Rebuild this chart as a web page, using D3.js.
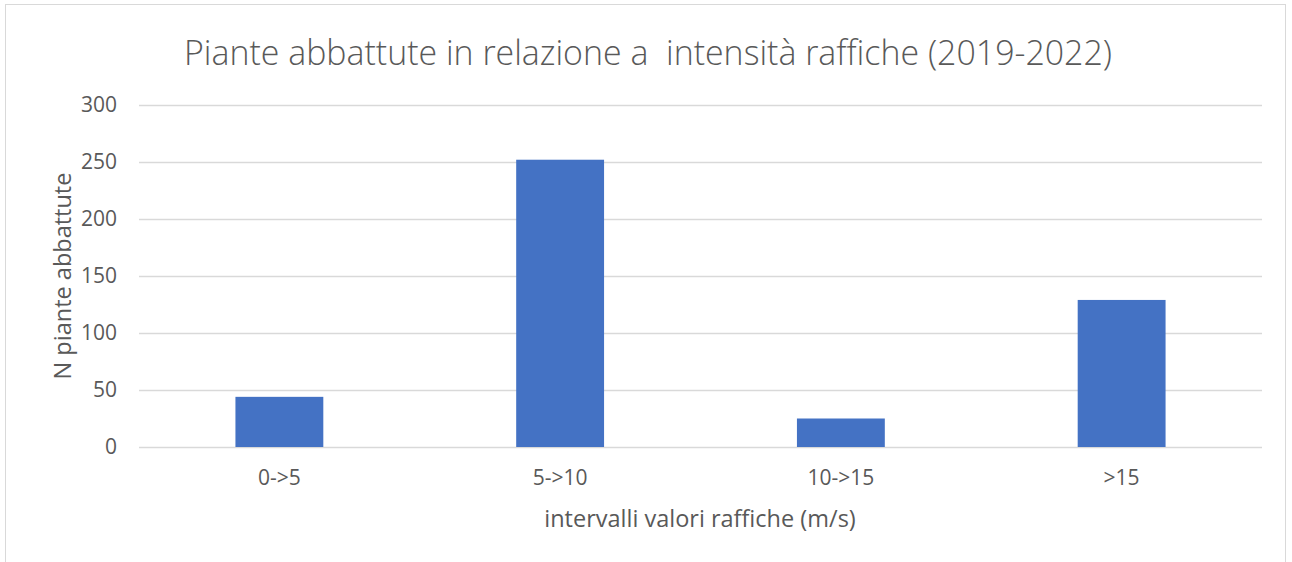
<!DOCTYPE html>
<html>
<head>
<meta charset="utf-8">
<script src="https://cdn.jsdelivr.net/npm/d3@7"></script>
<style>
  body { margin: 0; background: #fff; }
  text { font-family: "Open Sans", "Noto Sans", sans-serif; fill: #595959; }
</style>
</head>
<body>
<script>
var categories = ['0->5', '5->10', '10->15', '>15'];
var values = [44, 252, 25, 129];
var yTicks = [0, 50, 100, 150, 200, 250, 300];

var width = 1292, height = 562;
var margin = { top: 105, right: 30, bottom: 115, left: 139 };

var svg = d3.select('body').append('svg')
  .attr('width', width)
  .attr('height', height);

// chart frame
svg.append('rect')
  .attr('x', 5.5).attr('y', 4.5)
  .attr('width', 1280).attr('height', 570)
  .attr('fill', '#fff')
  .attr('stroke', '#d9d9d9');

var x = d3.scaleBand()
  .domain(categories)
  .range([margin.left, width - margin.right])
  .paddingInner(0.687)
  .paddingOuter(0.3435);

var y = d3.scaleLinear()
  .domain([0, 300])
  .range([height - margin.bottom, margin.top]);

// gridlines
svg.append('g')
  .selectAll('line')
  .data(yTicks)
  .enter().append('line')
  .attr('x1', margin.left)
  .attr('x2', width - margin.right)
  .attr('y1', function(d) { return Math.round(y(d)) + 0.5; })
  .attr('y2', function(d) { return Math.round(y(d)) + 0.5; })
  .attr('stroke', '#d9d9d9')
  .attr('stroke-width', 1.5);

// y tick labels
var yAxis = svg.append('g')
  .attr('transform', 'translate(' + (margin.left - 22) + ',0)')
  .call(d3.axisLeft(y).tickValues(yTicks).tickSize(0).tickPadding(0));
yAxis.select('.domain').remove();
yAxis.selectAll('text')
  .style('font-size', '21px')
  .attr('fill', '#595959');

// bars
svg.append('g')
  .selectAll('rect')
  .data(values)
  .enter().append('rect')
  .attr('x', function(d, i) { return x(categories[i]); })
  .attr('y', function(d) { return y(d); })
  .attr('width', x.bandwidth())
  .attr('height', function(d) { return y(0) - y(d); })
  .attr('fill', '#4472c4');

// x tick labels
var xAxis = svg.append('g')
  .attr('transform', 'translate(0,' + (y(0) + 23) + ')')
  .call(d3.axisBottom(x).tickSize(0).tickPadding(0));
xAxis.select('.domain').remove();
xAxis.selectAll('text')
  .style('font-size', '21px')
  .attr('fill', '#595959');

// title
svg.append('text')
  .attr('x', 648)
  .attr('y', 65)
  .attr('text-anchor', 'middle')
  .attr('textLength', 928)
  .attr('lengthAdjust', 'spacingAndGlyphs')
  .style('font-size', '35px')
  .style('font-weight', 300)
  .style('white-space', 'pre')
  .text('Piante abbattute in relazione a  intensità raffiche (2019-2022)');

// x axis title
svg.append('text')
  .attr('x', 700)
  .attr('y', 527)
  .attr('text-anchor', 'middle')
  .style('font-size', '23.5px')
  .text('intervalli valori raffiche (m/s)');

// y axis title
svg.append('text')
  .attr('transform', 'translate(71,' + ((y(0) + y(300)) / 2) + ') rotate(-90)')
  .attr('text-anchor', 'middle')
  .style('font-size', '23.5px')
  .text('N piante abbattute');
</script>
</body>
</html>
